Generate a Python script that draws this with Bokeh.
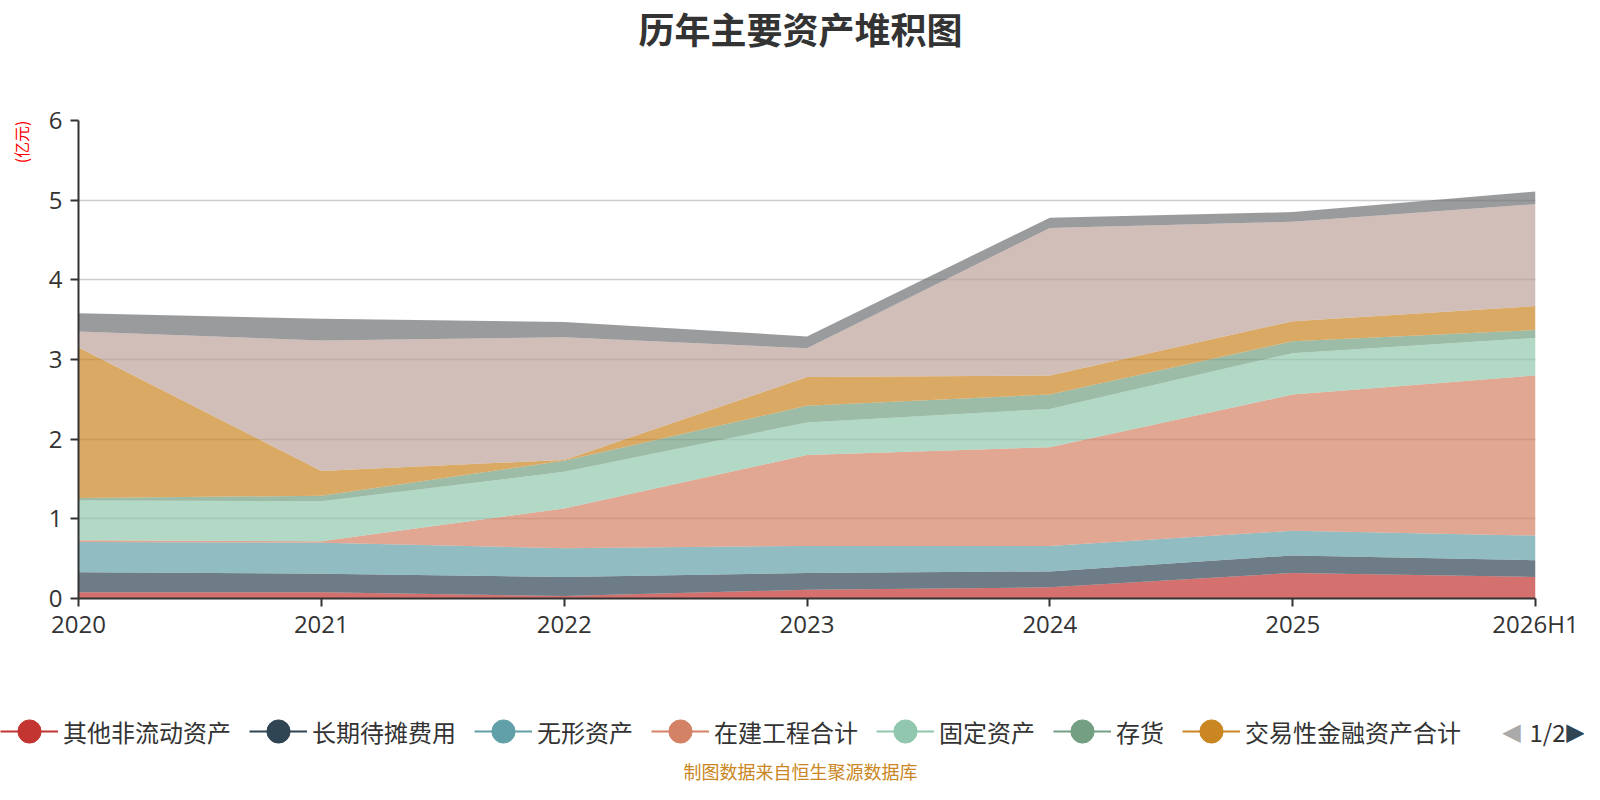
import math
from bokeh.plotting import figure
from bokeh.layouts import column, row
from bokeh.models import (Range1d, Legend, LegendItem, ColumnDataSource,
                          FixedTicker, Label, Title)
from bokeh.embed import file_html
from bokeh.resources import INLINE

# ---------------- data (亿元) ----------------
years = ["2020", "2021", "2022", "2023", "2024", "2025", "2026H1"]
other_noncurrent = [0.08, 0.08, 0.03, 0.11, 0.14, 0.32, 0.27]   # 其他非流动资产
long_prepaid     = [0.25, 0.23, 0.24, 0.21, 0.20, 0.22, 0.21]   # 长期待摊费用
intangible       = [0.38, 0.39, 0.36, 0.34, 0.32, 0.31, 0.31]   # 无形资产
construction     = [0.02, 0.02, 0.50, 1.14, 1.24, 1.71, 2.01]   # 在建工程合计
fixed_assets     = [0.50, 0.50, 0.46, 0.41, 0.48, 0.52, 0.47]   # 固定资产
inventory        = [0.03, 0.07, 0.14, 0.21, 0.18, 0.15, 0.10]   # 存货
trading_fin      = [1.89, 0.31, 0.01, 0.36, 0.24, 0.25, 0.30]   # 交易性金融资产合计
cash             = [0.20, 1.64, 1.54, 0.36, 1.85, 1.25, 1.28]   # 货币资金 (legend page 2)
receivables      = [0.23, 0.27, 0.19, 0.15, 0.13, 0.12, 0.16]   # 应收账款 (legend page 2)

series_names = ["其他非流动资产", "长期待摊费用", "无形资产", "在建工程合计",
                "固定资产", "存货", "交易性金融资产合计", "货币资金", "应收账款"]
series_keys = ["s0", "s1", "s2", "s3", "s4", "s5", "s6", "s7", "s8"]
series_vals = [other_noncurrent, long_prepaid, intangible, construction,
               fixed_assets, inventory, trading_fin, cash, receivables]
colors = ["#c23531", "#2f4554", "#61a0a8", "#d48265", "#91c7ae",
          "#749f83", "#ca8622", "#bda29a", "#6e7074"]
y_ticks = [0, 1, 2, 3, 4, 5, 6]

x_idx = list(range(len(years)))
data = {"x": x_idx}
for k, v in zip(series_keys, series_vals):
    data[k] = v
src = ColumnDataSource(data)

W = 1584


def blank_fig(width, height, **borders):
    b = dict(min_border_left=0, min_border_right=0,
             min_border_top=0, min_border_bottom=0)
    b.update(borders)
    f = figure(width=width, height=height, output_backend="svg",
               toolbar_location=None, x_axis_type=None, y_axis_type=None,
               x_range=Range1d(0, 1), y_range=Range1d(0, 1), **b)
    f.outline_line_color = None
    f.background_fill_color = "white"
    f.border_fill_color = "white"
    f.xgrid.visible = False
    f.ygrid.visible = False
    return f


def screen_label(fig, x, y, text, **kw):
    fig.add_layout(Label(x=x, y=y, x_units="screen", y_units="screen", text=text,
                         text_align="center", text_baseline="middle", **kw))


# ---------------- title strip ----------------
TOP_H = 98
p_top = blank_fig(W, TOP_H)
screen_label(p_top, 800, TOP_H - 27, "历年主要资产堆积图",
             text_font="Noto Sans CJK SC", text_font_size="36px",
             text_font_style="bold", text_color="#333333")

# ---------------- main plot ----------------
MAIN_H = 562
UNIT_W = 40
p = figure(width=W - UNIT_W, height=MAIN_H, output_backend="svg",
           toolbar_location=None,
           x_range=Range1d(0, len(years) - 1), y_range=Range1d(0, 6),
           min_border_left=78 - UNIT_W, min_border_right=49,
           min_border_top=20, min_border_bottom=62)
p.outline_line_color = None
p.background_fill_color = "white"
p.border_fill_color = "white"
p.xgrid.visible = False
p.ygrid.grid_line_color = "#cccccc"
p.ygrid.grid_line_width = 1.5

p.varea_stack(stackers=series_keys, x="x", fill_color=colors, fill_alpha=0.7,
              source=src)

p.xaxis.ticker = FixedTicker(ticks=x_idx)
p.xaxis.major_label_overrides = {i: y for i, y in enumerate(years)}
p.yaxis.ticker = FixedTicker(ticks=y_ticks)
for ax in (p.xaxis[0], p.yaxis[0]):
    ax.axis_line_color = "#333333"
    ax.axis_line_width = 2
    ax.major_tick_line_color = "#333333"
    ax.major_tick_line_width = 2
    ax.major_tick_out = 8
    ax.major_tick_in = 0
    ax.minor_tick_line_color = None
    ax.major_label_text_font = "Open Sans"
    ax.major_label_text_font_size = "24px"
    ax.major_label_text_color = "#333333"
p.xaxis.major_label_standoff = 0
p.yaxis.major_label_standoff = 8

# unit strip left of the plot (rotated title in a side panel)
p_unit = blank_fig(UNIT_W, MAIN_H, min_border_left=34, min_border_top=22)
p_unit.add_layout(Title(text="(亿元)", align="right", standoff=16,
                        text_font="Noto Sans CJK SC", text_font_size="16px",
                        text_font_style="normal", text_color="#ff0000"), "left")

# ---------------- legend + footer strip ----------------
BOT_H = 784 - TOP_H - MAIN_H
p_bot = blank_fig(W, BOT_H)
items = []
for name, c in zip(series_names[:7], colors[:7]):
    # single off-frame point so the legend can draw its glyph
    rl = p_bot.line(x=[-5, -4], y=[-5, -5], line_color=c, line_width=2)
    rs = p_bot.scatter(x=[-5], y=[-5], marker="circle", fill_color=c,
                       line_color=c, size=22)
    items.append(LegendItem(label=name, renderers=[rl, rs]))
legend = Legend(items=items, orientation="horizontal", location=(0, BOT_H - 101),
                glyph_width=58, glyph_height=60, label_standoff=5, spacing=18,
                padding=0, margin=0, border_line_color=None,
                background_fill_alpha=0,
                label_text_font="Noto Sans CJK SC", label_text_font_size="24px",
                label_text_color="#333333")
p_bot.add_layout(legend, "center")

ly = BOT_H - 71
screen_label(p_bot, 1511, ly, "◀", text_font="DejaVu Sans",
             text_font_size="24px", text_color="#aaaaaa")
screen_label(p_bot, 1547, ly, "1/2", text_font="Noto Sans CJK SC",
             text_font_size="24px", text_color="#333333")
screen_label(p_bot, 1575, ly, "▶", text_font="DejaVu Sans",
             text_font_size="24px", text_color="#2f4554")
screen_label(p_bot, 800, 14, "制图数据来自恒生聚源数据库",
             text_font="Noto Sans CJK SC", text_font_size="18px",
             text_color="#ca8622")

layout = column(p_top, row(p_unit, p), p_bot, spacing=0)

open("out.html", "w").write(file_html(layout, INLINE))
